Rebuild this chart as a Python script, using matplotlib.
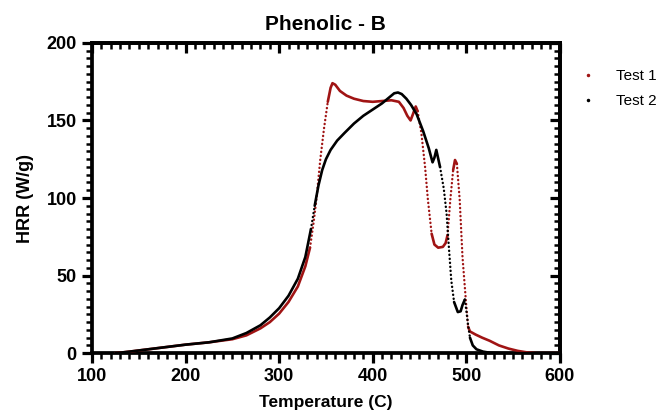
import numpy as np
import matplotlib.pyplot as plt
from matplotlib.ticker import MultipleLocator

plt.rcParams['font.family'] = ['Liberation Sans', 'DejaVu Sans']

# HRR curves (W/g) vs temperature (C)
test1_temp = [125, 140, 160, 180, 200, 225, 250, 265, 280, 290, 300, 310, 320, 328,
              333, 337, 340, 344, 348, 352, 355, 357, 360, 365, 372, 380, 390, 400,
              410, 420, 428, 433, 437, 440.5, 443, 446, 448, 452, 456, 459, 463, 466,
              470, 475, 478, 480, 483, 486, 488, 490, 493, 496, 499.6, 502, 504, 510,
              517, 525, 535, 545, 555, 565, 575, 600]
test1_hrr = [0, 1, 2.5, 4, 5.5, 7, 9, 11.5, 16, 20, 25.5, 33, 43, 56,
             68, 85, 100, 125, 145, 162, 171, 174, 173, 169, 166, 164, 162.5, 162,
             162.5, 163, 162, 158, 153, 150, 154, 159, 156, 142, 120, 99, 77, 70,
             68, 68.5, 71, 76, 99, 118, 124.5, 122, 99, 62, 34, 17, 14, 12,
             10, 8, 5, 3, 1.5, 0.5, 0, 0]

test2_temp = [125, 140, 160, 180, 200, 225, 250, 265, 280, 290, 300, 310, 320, 328,
              334, 338, 342, 346, 350, 355, 362, 370, 380, 390, 400, 410, 418, 423,
              427, 431, 436, 441, 447, 454, 460, 464, 466, 468, 472, 476, 479, 481,
              484, 487, 491, 494, 496, 498.5, 500, 502, 504, 507, 511, 518, 525, 540, 600]
test2_hrr = [0, 1, 2.5, 4, 5.5, 7, 9.5, 13, 18, 23, 29, 37, 48, 62,
             80, 95, 108, 118, 125, 131, 137, 142, 148, 153, 157, 161, 165, 167.5,
             168, 167, 164, 160, 154, 143, 132, 123, 126, 131, 120, 106, 90, 72,
             47, 33, 26.5, 27, 31, 34.5, 28, 18, 10, 5, 2.5, 1, 0.3, 0, 0]

series = [('Test 1', test1_temp, test1_hrr, '#a01414'),
          ('Test 2', test2_temp, test2_hrr, '#000000')]

fig = plt.figure(figsize=(6.72, 4.16), dpi=100)
ax = fig.add_axes([0.137, 0.151, 0.696, 0.746])


def draw_curve(ax, x, y, color):
    # steep stretches were sampled sparsely, so draw them as dots
    x = np.asarray(x, float)
    y = np.asarray(y, float)
    slope = np.abs(np.diff(y) / np.diff(x))
    steep = slope > 3.4
    start = 0
    for i in range(1, len(steep) + 1):
        if i == len(steep) or steep[i] != steep[start]:
            xs, ys = x[start:i + 1], y[start:i + 1]
            if steep[start]:
                ax.plot(xs, ys, color=color, lw=1.7, linestyle=(0, (0.1, 1.6)),
                        dash_capstyle='round', zorder=3)
            else:
                ax.plot(xs, ys, color=color, lw=1.9, solid_capstyle='round', zorder=3)
            start = i


for label, t, h, c in series:
    draw_curve(ax, t, h, c)
    ax.plot([], [], linestyle='none', marker='.', markersize=3, color=c, label=label)

ax.set_xlim(100, 600)
ax.set_ylim(0, 200)
ax.xaxis.set_major_locator(MultipleLocator(100))
ax.xaxis.set_minor_locator(MultipleLocator(10))
ax.yaxis.set_major_locator(MultipleLocator(50))
ax.yaxis.set_minor_locator(MultipleLocator(5))

LW = 2.7
for sp in ax.spines.values():
    sp.set_linewidth(LW)

ax.tick_params(which='major', direction='out', length=7, width=2.3,
               labelsize=13, pad=4, top=False, right=False)
ax.tick_params(which='minor', direction='out', length=4, width=1.8,
               top=False, right=False)
for lab in ax.get_xticklabels() + ax.get_yticklabels():
    lab.set_fontweight('bold')

# mirrored ticks on the top and right, pointing inward
top = ax.secondary_xaxis('top')
top.xaxis.set_major_locator(MultipleLocator(100))
top.xaxis.set_minor_locator(MultipleLocator(10))
top.tick_params(which='major', direction='in', length=7, width=2.3, labeltop=False)
top.tick_params(which='minor', direction='in', length=4, width=1.8)
top.spines['top'].set_linewidth(LW)
right = ax.secondary_yaxis('right')
right.yaxis.set_major_locator(MultipleLocator(50))
right.yaxis.set_minor_locator(MultipleLocator(5))
right.tick_params(which='major', direction='in', length=7, width=2.3, labelright=False)
right.tick_params(which='minor', direction='in', length=4, width=1.8)
right.spines['right'].set_linewidth(LW)

ax.set_xlabel('Temperature (C)', fontsize=12.5, fontweight='bold', labelpad=7)
ax.set_ylabel('HRR (W/g)', fontsize=13, fontweight='bold', labelpad=9)
ax.set_title('Phenolic - B', fontsize=15, fontweight='bold', pad=9)

ax.legend(loc='upper left', bbox_to_anchor=(1.015, 0.96), frameon=False,
          fontsize=11, handlelength=1.0, handletextpad=1.3, labelspacing=0.75)

fig.savefig('out.png', dpi=100)
